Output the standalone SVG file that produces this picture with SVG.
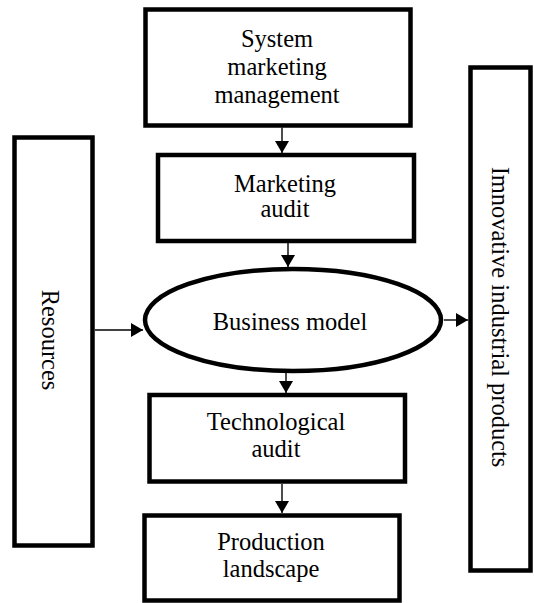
<svg xmlns="http://www.w3.org/2000/svg" width="534" height="603" viewBox="0 0 534 603">
  <style>
    .box { fill: #ffffff; stroke: #000000; stroke-width: 4.5; }
    .lbl { font-family: "Liberation Serif", "Times New Roman", serif; font-size: 24.5px; fill: #000000; text-anchor: middle; }
    .conn { stroke: #000000; stroke-width: 1.4; fill: none; marker-end: url(#arrow); }
  </style>
  <defs>
    <marker id="arrow" markerUnits="userSpaceOnUse" markerWidth="13" markerHeight="15" refX="12" refY="7" orient="auto">
      <path d="M0,0 L12,7 L0,14 Z" fill="#000000"/>
    </marker>
  </defs>
  <rect x="0" y="0" width="534" height="603" fill="#ffffff"/>

  <g id="connectors">
    <line class="conn" x1="282" y1="127.5" x2="282" y2="153"/>
    <line class="conn" x1="288" y1="243" x2="288" y2="267"/>
    <line class="conn" x1="286" y1="373" x2="286" y2="393"/>
    <line class="conn" x1="282" y1="484" x2="282" y2="513"/>
    <line class="conn" x1="95" y1="330" x2="143" y2="330"/>
    <line class="conn" x1="444" y1="320" x2="468" y2="320"/>
  </g>

  <g id="system-marketing-management">
    <rect class="box" x="145.5" y="9.5" width="265" height="116"/>
    <text class="lbl" x="277" y="47">System</text>
    <text class="lbl" x="277" y="75">marketing</text>
    <text class="lbl" x="277" y="103">management</text>
  </g>

  <g id="marketing-audit">
    <rect class="box" x="158" y="155" width="256" height="86"/>
    <text class="lbl" x="285" y="192">Marketing</text>
    <text class="lbl" x="285" y="217">audit</text>
  </g>

  <g id="business-model">
    <ellipse class="box" cx="293" cy="320" rx="148" ry="51"/>
    <text class="lbl" x="290" y="330">Business model</text>
  </g>

  <g id="technological-audit">
    <rect class="box" x="149.5" y="395" width="255.5" height="86.5"/>
    <text class="lbl" x="276" y="430">Technological</text>
    <text class="lbl" x="276" y="457">audit</text>
  </g>

  <g id="production-landscape">
    <rect class="box" x="144.5" y="515.5" width="255" height="85"/>
    <text class="lbl" x="271" y="550">Production</text>
    <text class="lbl" x="271" y="577">landscape</text>
  </g>

  <g id="resources">
    <rect class="box" x="14.5" y="137.5" width="78" height="408"/>
    <text class="lbl" transform="translate(42,340) rotate(90)">Resources</text>
  </g>

  <g id="innovative-industrial-products">
    <rect class="box" x="470.5" y="67.5" width="60" height="503"/>
    <text class="lbl" transform="translate(492,317) rotate(90)">Imnovative industrial products</text>
  </g>
</svg>
